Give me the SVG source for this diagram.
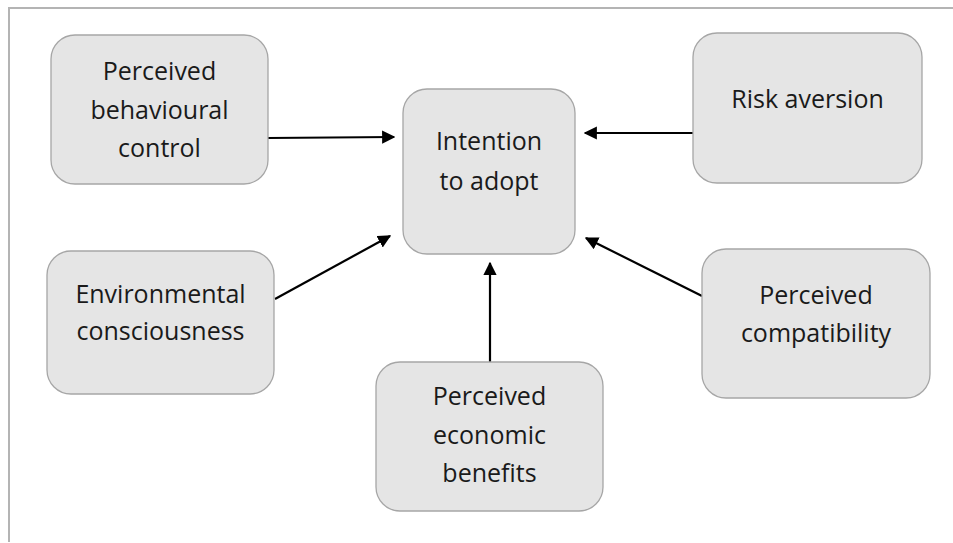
<svg xmlns="http://www.w3.org/2000/svg" width="953" height="543" viewBox="0 0 953 543">
  <style>
    .box { fill: #e5e5e5; stroke: #a6a6a6; stroke-width: 1.3; }
    .lbl { font-family: "Open Sans", "Liberation Sans", sans-serif; font-size: 25px; fill: #1a1a1a; text-anchor: middle; }
    .edge { stroke: #000; stroke-width: 2.2; fill: none; marker-end: url(#arrow); }
    .frame { stroke: #b4b4b4; stroke-width: 2; fill: none; }
  </style>
  <defs>
    <marker id="arrow" viewBox="0 0 10 10" refX="9" refY="5" markerWidth="6" markerHeight="6" orient="auto" markerUnits="strokeWidth">
      <path d="M0,0 L10,5 L0,10 z" fill="#000"/>
    </marker>
  </defs>
  <rect width="953" height="543" fill="#fff"/>
  <path class="frame" d="M9,542 L9,8 L953,8"/>

  <g id="connectors">
    <line class="edge" x1="268" y1="138" x2="394" y2="137"/>
    <line class="edge" x1="693" y1="133" x2="585" y2="133"/>
    <line class="edge" x1="275" y1="299" x2="390" y2="236"/>
    <line class="edge" x1="702" y1="296" x2="586" y2="238"/>
    <line class="edge" x1="490" y1="362" x2="490" y2="263"/>
  </g>

  <g id="pbc">
    <rect class="box" x="51" y="35" width="217" height="149" rx="24"/>
    <text class="lbl" x="159.5" y="80">Perceived</text>
    <text class="lbl" x="159.5" y="119">behavioural</text>
    <text class="lbl" x="159.5" y="157">control</text>
  </g>
  <g id="intention">
    <rect class="box" x="403" y="89" width="172" height="165" rx="24"/>
    <text class="lbl" x="489" y="150">Intention</text>
    <text class="lbl" x="489" y="190">to adopt</text>
  </g>
  <g id="risk">
    <rect class="box" x="693" y="33" width="229" height="150" rx="24"/>
    <text class="lbl" x="807.5" y="108">Risk aversion</text>
  </g>
  <g id="environmental">
    <rect class="box" x="47" y="251" width="227" height="143" rx="24"/>
    <text class="lbl" x="160.5" y="303">Environmental</text>
    <text class="lbl" x="160.5" y="340">consciousness</text>
  </g>
  <g id="compatibility">
    <rect class="box" x="702" y="249" width="228" height="149" rx="24"/>
    <text class="lbl" x="816" y="304">Perceived</text>
    <text class="lbl" x="816" y="342">compatibility</text>
  </g>
  <g id="economic">
    <rect class="box" x="376" y="362" width="227" height="149" rx="24"/>
    <text class="lbl" x="489.5" y="405">Perceived</text>
    <text class="lbl" x="489.5" y="444">economic</text>
    <text class="lbl" x="489.5" y="482">benefits</text>
  </g>
</svg>
